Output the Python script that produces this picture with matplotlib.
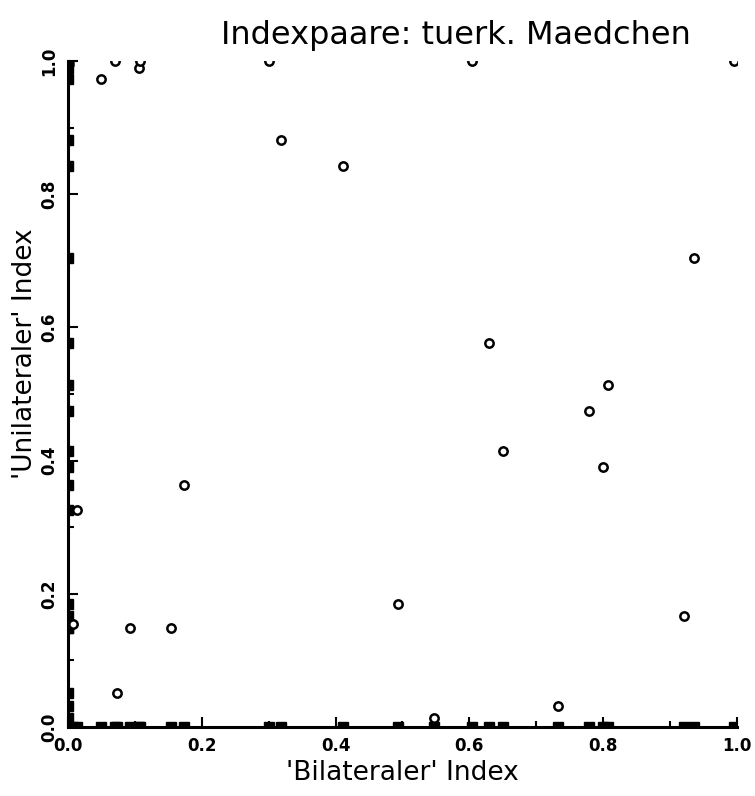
import matplotlib
matplotlib.use("Agg")
import matplotlib.pyplot as plt
from matplotlib.ticker import MultipleLocator, FormatStrFormatter

# 'Bilateraler' / 'Unilateraler' Index pairs
bilateral = [0.008, 0.013, 0.050, 0.070, 0.074, 0.093, 0.106, 0.108, 0.154, 0.174,
             0.300, 0.318, 0.411, 0.494, 0.547, 0.604, 0.629, 0.650, 0.732, 0.779,
             0.800, 0.807, 0.921, 0.936, 0.995]
unilateral = [0.155, 0.326, 0.973, 1.000, 0.051, 0.148, 0.989, 1.000, 0.148, 0.363,
              1.000, 0.882, 0.843, 0.185, 0.013, 1.000, 0.577, 0.415, 0.032, 0.474,
              0.391, 0.514, 0.167, 0.704, 1.000]

title = "Indexpaare: tuerk. Maedchen"
xlabel = "'Bilateraler' Index"
ylabel = "'Unilateraler' Index"

fig = plt.figure(figsize=(7.55, 7.96), dpi=100)
ax = fig.add_axes([0.090, 0.0867, 0.886, 0.8367])

# scatter of index pairs, open circles (clipped at the frame)
ax.plot(bilateral, unilateral, 'o', ms=6, mew=1.8, mfc='white', mec='black',
        linestyle='none', clip_on=True, zorder=3)

# rug marks along both axes
ax.plot(bilateral, [0] * len(bilateral), 's', ms=7, color='black',
        transform=ax.get_xaxis_transform(), clip_on=True, zorder=2)
ax.plot([0] * len(unilateral), unilateral, 's', ms=7, color='black',
        transform=ax.get_yaxis_transform(), clip_on=True, zorder=2)

ax.set_xlim(0, 1)
ax.set_ylim(0, 1)

for side in ['top', 'right']:
    ax.spines[side].set_visible(False)
for side in ['left', 'bottom']:
    ax.spines[side].set_linewidth(2.2)

ax.xaxis.set_major_locator(MultipleLocator(0.2))
ax.xaxis.set_minor_locator(MultipleLocator(0.1))
ax.yaxis.set_major_locator(MultipleLocator(0.2))
ax.yaxis.set_minor_locator(MultipleLocator(0.1))
ax.xaxis.set_major_formatter(FormatStrFormatter('%.1f'))
ax.yaxis.set_major_formatter(FormatStrFormatter('%.1f'))

ax.tick_params(which='major', direction='in', length=7, width=1.5, pad=7,
               labelsize=12)
ax.tick_params(which='minor', direction='in', length=4, width=1.5)
for lab in ax.get_xticklabels() + ax.get_yticklabels():
    lab.set_fontweight('bold')
for lab in ax.get_yticklabels():
    lab.set_rotation(90)
    lab.set_va('center')

ax.set_xlabel(xlabel, fontsize=19, labelpad=4)
ax.set_ylabel(ylabel, fontsize=19)
ax.yaxis.set_label_coords(-0.045, 0.56)
ax.set_title(title, fontsize=23, pad=12, x=0.58)

fig.savefig("out.png", dpi=100)
